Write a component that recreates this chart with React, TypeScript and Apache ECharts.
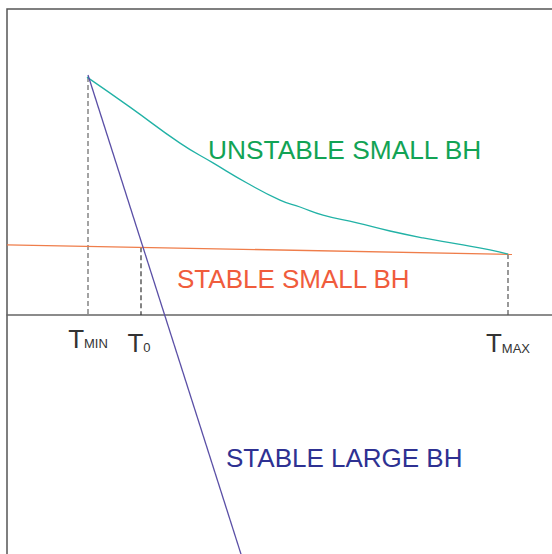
import React, { useEffect, useRef } from "react";
import * as echarts from "echarts";

// Temperature marks (x units)
const T_MIN = 16.2;
const T_0 = 26.8;
const T_MAX = 100.2;
const tickValues = [T_MIN, T_0, T_MAX];

// Unstable small black hole branch
const unstableX = [16.0, 24.6, 34.6, 41.2, 48.0, 54.6, 58.6, 63.2, 70.0, 76.6, 83.2, 90.0, 96.6, 100.2];
const unstableY = [79.3, 69.3, 57.3, 50.7, 44.0, 38.3, 36.0, 33.3, 30.7, 28.0, 25.7, 23.7, 21.7, 20.3];

// Stable small black hole branch
const stableSmallX = [0, 101];
const stableSmallY = [23.4, 20.2];

// Stable large black hole branch
const stableLargeX = [16.2, 46.8];
const stableLargeY = [80.0, -79.7];

// Dashed drop lines (x, top y)
const dropX = [T_MIN, T_0, T_MAX];
const dropTop = [79.3, 22.6, 20.3];

const zip = (xs: number[], ys: number[]) => xs.map((x, i) => [x, ys[i]]);

export default function App() {
  const ref = useRef<HTMLDivElement>(null);
  useEffect(() => {
    if (!ref.current) return;
    const chart = echarts.init(ref.current, null, { renderer: "svg" });
    const font = "'Liberation Sans', Arial, Helvetica, sans-serif";
    const dropColors = ["#666", "#333", "#555"];
    const option: any = {
      animation: false,
      grid: {
        left: 7,
        top: 9,
        right: -10,
        bottom: -10,
        containLabel: false,
        outerBoundsMode: "none",
        show: true,
        borderColor: "#555",
        borderWidth: 1.5,
        backgroundColor: "transparent",
      },
      xAxis: {
        type: "value",
        min: 0,
        max: 111,
        position: "bottom",
        offset: -249,
        axisLine: { show: true, onZero: false, lineStyle: { color: "#666", width: 1.5 } },
        axisTick: { show: false },
        splitLine: { show: false },
        axisLabel: {
          show: true,
          customValues: tickValues,
          margin: 14.5,
          hideOverlap: false,
          fontFamily: font,
          formatter: (v: number) => {
            const i = tickValues.findIndex((t) => Math.abs(t - v) < 1e-6);
            if (i < 0) return "";
            if (i === 0) return "{ta|T}{sa|MIN}";
            if (i === 1) return "{tb|T}{sb|0}";
            return "{tb|T}{sc|MAX}";
          },
          rich: {
            ta: { fontSize: 26, lineHeight: 26, color: "#333", fontFamily: font, verticalAlign: "bottom", padding: [0, 0, 4, 0] },
            tb: { fontSize: 26, lineHeight: 26, color: "#333", fontFamily: font, verticalAlign: "bottom", padding: [4, 0, 0, 0] },
            sa: { fontSize: 13, lineHeight: 13, color: "#333", fontFamily: font, verticalAlign: "bottom", padding: [0, 0, 5.5, 0] },
            sb: { fontSize: 13, lineHeight: 13, color: "#333", fontFamily: font, verticalAlign: "bottom", padding: [0, 4, 1.5, 0] },
            sc: { fontSize: 13, lineHeight: 13, color: "#333", fontFamily: font, verticalAlign: "bottom", padding: [0, 0, 1, 0] },
          },
        },
      },
      yAxis: {
        type: "value",
        min: -83,
        max: 102,
        axisLine: { show: false },
        axisTick: { show: false },
        axisLabel: { show: false },
        splitLine: { show: false },
      },
      series: [
        ...dropX.map((x, i) => ({
          type: "line",
          data: [[x, dropTop[i]], [x, 0]],
          symbol: "none",
          silent: true,
          lineStyle: { color: dropColors[i], width: 1.2, type: [5, 3] },
        })),
        {
          type: "line",
          data: zip(stableSmallX, stableSmallY),
          symbol: "none",
          lineStyle: { color: "#ef7d4a", width: 1.3 },
        },
        {
          type: "line",
          data: zip(unstableX, unstableY),
          symbol: "none",
          smooth: 0.5,
          lineStyle: { color: "#22b2a6", width: 1.3 },
        },
        {
          type: "line",
          data: zip(stableLargeX, stableLargeY),
          symbol: "none",
          lineStyle: { color: "#5a4fa6", width: 1.3 },
        },
      ],
      graphic: [
        {
          type: "text",
          x: 208,
          y: 150,
          style: { text: "UNSTABLE SMALL BH", fontSize: 26.3, fontFamily: font, fill: "#12a355", align: "left", verticalAlign: "middle" },
        },
        {
          type: "text",
          x: 177,
          y: 279,
          style: { text: "STABLE SMALL BH", fontSize: 26, fontFamily: font, fill: "#f05c3c", align: "left", verticalAlign: "middle" },
        },
        {
          type: "text",
          x: 226,
          y: 458,
          style: { text: "STABLE LARGE BH", fontSize: 26, fontFamily: font, fill: "#2e3192", align: "left", verticalAlign: "middle" },
        },
      ],
    };
    chart.setOption(option);
    return () => chart.dispose();
  }, []);
  return (
    <div
      ref={ref}
      style={{ position: "absolute", left: 0, top: 0, width: 552, height: 554, background: "#fff" }}
    />
  );
}
